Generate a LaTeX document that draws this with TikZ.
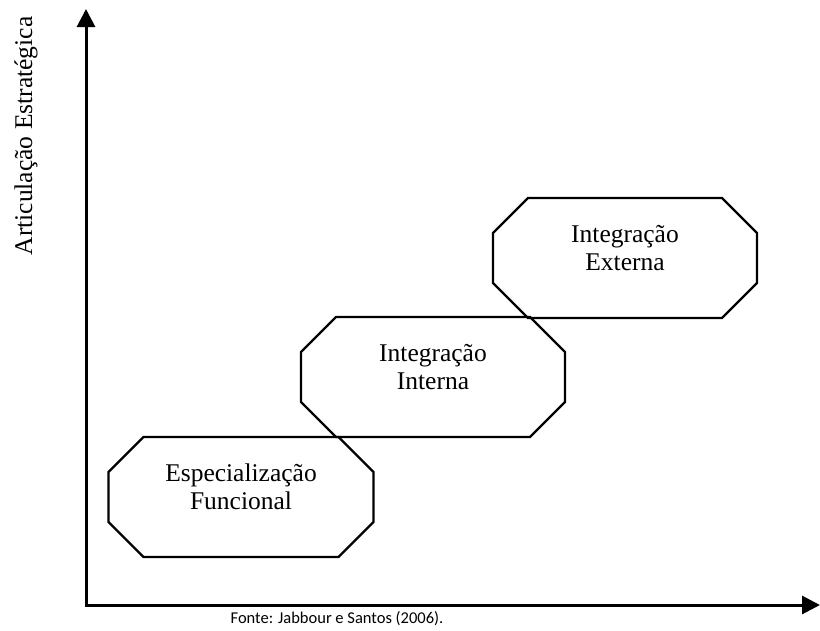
\documentclass[tikz,border=0pt]{standalone}
\usepackage{fontspec}
\setmainfont{Liberation Serif}
\newfontfamily\fontefont{Carlito}
\usepackage{tikz}
\usetikzlibrary{calc,arrows.meta}
\def\octagon[#1](#2)(#3:#4:#5){\draw[#1] ($(#2)+(-#3,{-#4+#5})$) -- ++(#5,-#5) -- ++({2*#3-2*#5},0) -- ++(#5,#5) -- ++(0,{2*#4-2*#5}) -- ++(-#5,#5) -- ++({-2*#3+2*#5},0) -- ++(-#5,-#5) -- cycle;}

\begin{document}
\begin{tikzpicture}[x=1pt,y=-1pt,
	axis/.style={line width=3pt,{Triangle[length=18pt,width=18pt]}-{Triangle[length=18pt,width=18pt]}},
	octline/.style={line width=2.2pt,line join=miter},
	octtext/.style={align=center,font=\fontsize{25.5}{28}\selectfont}]
		%%%%% START %%%%%
		\useasboundingbox (0,0) rectangle (820,630);
		
		\coordinate (origin) at (86,605);
		\coordinate (ytip) at (86,9);
		\coordinate (xtip) at (820,605);
		\draw[axis] (ytip) -- (origin) -- (xtip);
		
		\node[rotate=90,font=\fontsize{25.5}{28}\selectfont] (ylabel) at (26,136) {Articulação Estratégica};
		
		\coordinate (esp) at (241,497);
		\coordinate (intint) at (433,377);
		\coordinate (intext) at (625,258);
		
		\octagon[octline](esp)(132.5:60:35);
		\octagon[octline](intint)(132:60:35);
		\octagon[octline](intext)(132:60:35);
		
		\node[octtext,yshift=10pt] (esptxt) at (esp) {Especialização\\Funcional};
		\node[octtext,yshift=10pt] (intinttxt) at (intint) {Integração\\Interna};
		\node[octtext,yshift=10pt] (intexttxt) at (intext) {Integração\\Externa};
		
		\node[font=\fontefont\fontsize{16.5}{18}\selectfont] (fonte) at (337,619) {Fonte: Jabbour e Santos (2006).};
		%%%%% END %%%%%
\end{tikzpicture}
\end{document}
